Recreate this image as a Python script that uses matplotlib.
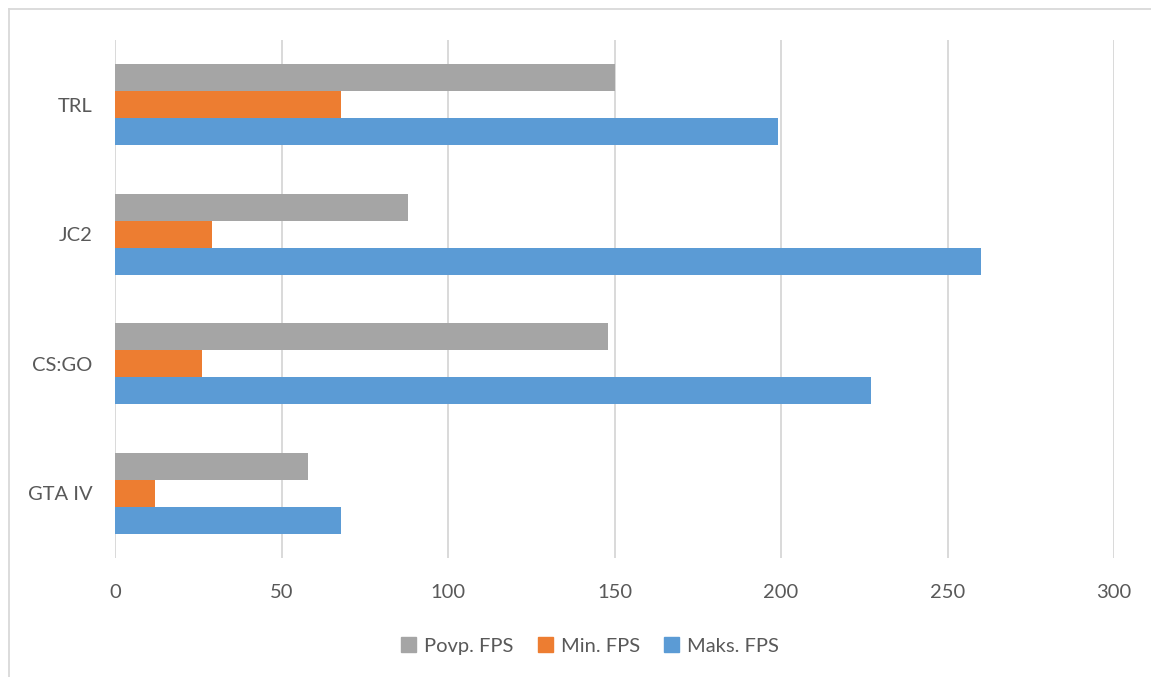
import matplotlib.pyplot as plt
import numpy as np
from matplotlib.patches import Patch
from matplotlib.lines import Line2D

games = ['GTA IV', 'CS:GO', 'JC2', 'TRL']
povp_fps = [58, 148, 88, 150]
min_fps = [12, 26, 29, 68]
maks_fps = [68, 227, 260, 199]
x_ticks = [0, 50, 100, 150, 200, 250, 300]

plt.rcParams['font.family'] = ['Lato', 'DejaVu Sans']
text_color = '#595959'

fig = plt.figure(figsize=(11.51, 6.77), dpi=100)
ax = fig.add_axes([115 / 1151, 1 - 558 / 677, (1114 - 115) / 1151, (558 - 40) / 677])

y = np.arange(len(games))
h = 0.2075
ax.barh(y + h, povp_fps, height=h, color='#a5a5a5', label='Povp. FPS', zorder=3)
ax.barh(y, min_fps, height=h, color='#ed7d31', label='Min. FPS', zorder=3)
ax.barh(y - h, maks_fps, height=h, color='#5b9bd5', label='Maks. FPS', zorder=3)

ax.set_xlim(0, 300)
ax.set_ylim(-0.5, len(games) - 0.5)
ax.set_xticks(x_ticks)
ax.set_yticks(y)
ax.set_yticklabels(games)
ax.grid(axis='x', color='#d9d9d9', linewidth=1.4, zorder=0)
ax.set_axisbelow(True)
for s in ax.spines.values():
    s.set_visible(False)
ax.tick_params(axis='both', length=0, colors=text_color, labelsize=14.5)
ax.tick_params(axis='x', pad=19)
ax.tick_params(axis='y', pad=16)

handles = [Patch(color='#a5a5a5', label='Povp. FPS'),
           Patch(color='#ed7d31', label='Min. FPS'),
           Patch(color='#5b9bd5', label='Maks. FPS')]
leg = fig.legend(handles=handles, loc='center', bbox_to_anchor=(590 / 1151, 1 - 646 / 677),
                 ncol=3, frameon=False, fontsize=14.5, handlelength=0.75, handleheight=0.75,
                 handletextpad=0.4, columnspacing=1.2)
for t in leg.get_texts():
    t.set_color(text_color)

# chart area border (left and top edges visible)
fig.add_artist(Line2D([9 / 1151, 9 / 1151], [0, 1 - 9 / 677], transform=fig.transFigure,
                      color='#d9d9d9', linewidth=1.3))
fig.add_artist(Line2D([9 / 1151, 1], [1 - 9 / 677, 1 - 9 / 677], transform=fig.transFigure,
                      color='#d9d9d9', linewidth=1.3))

fig.savefig('out.png', dpi=100)
